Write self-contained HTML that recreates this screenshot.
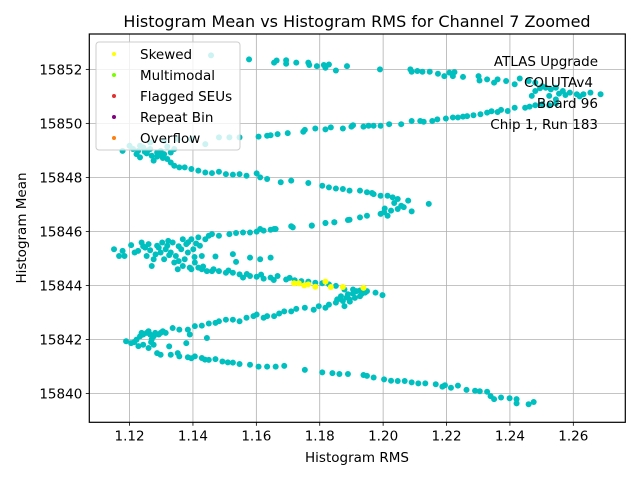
<!DOCTYPE html>
<html><head><meta charset="utf-8"><style>
html,body{margin:0;padding:0;background:#fff;}
svg{display:block;font-family:"DejaVu Sans","Liberation Sans",sans-serif;}
</style></head><body>
<svg id="chart" width="640" height="480" viewBox="0 0 640 480">
<rect width="640" height="480" fill="#fff"/>
<text x="357" y="27" font-size="16" text-anchor="middle">Histogram Mean vs Histogram RMS for Channel 7 Zoomed</text>
<g id="grid"></g>
<g id="points"></g>
<rect x="89.3" y="34" width="536" height="388.3" fill="none" stroke="#000" stroke-width="1.2"/>
<g id="ticks"></g>
<text x="357" y="462" font-size="13.5" text-anchor="middle">Histogram RMS</text>
<text transform="translate(26,228) rotate(-90)" font-size="13.5" text-anchor="middle">Histogram Mean</text>
<g font-size="13.5" text-anchor="end">
<text x="598" y="66">ATLAS Upgrade</text>
<text x="593" y="87">COLUTAv4</text>
<text x="598" y="108">Board 96</text>
<text x="598" y="129">Chip 1, Run 183</text>
</g>
<g id="legend">
<rect x="96" y="42" width="144" height="108" rx="3" fill="rgba(255,255,255,0.8)" stroke="#ccc"/>
</g>
</svg>
<script>
const xTicks = [1.12, 1.14, 1.16, 1.18, 1.20, 1.22, 1.24, 1.26];
const xTickLabels = ["1.12","1.14","1.16","1.18","1.20","1.22","1.24","1.26"];
const yTicks = [15840, 15842, 15844, 15846, 15848, 15850, 15852];
const yTickLabels = ["15840","15842","15844","15846","15848","15850","15852"];
const legendLabels = ["Skewed","Multimodal","Flagged SEUs","Repeat Bin","Overflow"];
const legendColors = ["#ffff00","#7cfc00","#e03030","#800080","#ff7f0e"];

const bandTop = [[1.1457,15852.52],[1.1577,15852.37],[1.1656,15852.25],[1.1664,15852.33],[1.1694,15852.34],[1.1694,15852.21],[1.1726,15852.25],[1.1764,15852.25],[1.1767,15852.16],[1.1791,15852.12],[1.1813,15852.16],[1.1818,15852.06],[1.1829,15852.18],[1.1851,15851.96],[1.1886,15852.12],[1.199,15852.0],[1.2086,15852.0],[1.209,15851.91],[1.2108,15851.94],[1.2124,15851.91],[1.2147,15851.91],[1.2173,15851.84],[1.2193,15851.75],[1.2209,15851.88],[1.222,15851.75],[1.2225,15851.9],[1.2252,15851.72],[1.2301,15851.75],[1.2304,15851.59],[1.2328,15851.63],[1.235,15851.51],[1.2361,15851.63],[1.2388,15851.57],[1.2415,15851.45],[1.2431,15851.66],[1.2459,15851.57],[1.248,15851.51],[1.2502,15851.38],[1.2513,15851.32],[1.2529,15851.26],[1.2545,15851.32],[1.2567,15851.2],[1.2589,15851.14],[1.2611,15851.08],[1.2632,15851.08],[1.2654,15851.14],[1.2686,15851.08],[1.248,15851.2],[1.2524,15851.02],[1.2545,15850.89],[1.2469,15851.02],[1.2555,15851.1],[1.2575,15851.05],[1.2495,15851.3],[1.262,15851.0]];
const bandRising = [[1.1178,15848.98],[1.12,15849.17],[1.1233,15849.17],[1.1265,15849.29],[1.1309,15849.35],[1.1352,15849.42],[1.1395,15849.42],[1.1439,15849.23],[1.1482,15849.48],[1.1515,15849.48],[1.1547,15849.48],[1.1607,15849.51],[1.1634,15849.54],[1.1645,15849.56],[1.1667,15849.6],[1.1699,15849.64],[1.1748,15849.69],[1.1753,15849.76],[1.1786,15849.81],[1.1818,15849.78],[1.1835,15849.85],[1.1873,15849.81],[1.19,15849.88],[1.1905,15849.93],[1.1938,15849.88],[1.1954,15849.91],[1.197,15849.91],[1.1992,15849.91],[1.2019,15849.97],[1.2057,15849.97],[1.209,15850.09],[1.2117,15850.09],[1.2128,15850.06],[1.2155,15850.09],[1.2171,15850.15],[1.2198,15850.18],[1.222,15850.22],[1.2236,15850.22],[1.2252,15850.25],[1.2285,15850.3],[1.2307,15850.34],[1.2328,15850.4],[1.2361,15850.42],[1.2372,15850.5],[1.2393,15850.46],[1.2415,15850.58],[1.2448,15850.58],[1.248,15850.67],[1.2502,15850.71],[1.2524,15850.67],[1.2545,15850.74],[1.2265,15850.27],[1.2342,15850.45],[1.2462,15850.62]];
const bandFalling = [[1.1211,15849.05],[1.1227,15848.98],[1.1243,15849.11],[1.1265,15849.05],[1.1298,15848.98],[1.1319,15849.14],[1.1341,15849.05],[1.1222,15848.86],[1.1233,15848.74],[1.1254,15848.89],[1.127,15848.8],[1.1287,15848.92],[1.1309,15848.86],[1.133,15848.92],[1.1287,15848.77],[1.1319,15848.68],[1.1276,15848.62],[1.133,15848.55],[1.1341,15848.43],[1.1357,15848.37],[1.1374,15848.37],[1.1395,15848.31],[1.1417,15848.25],[1.1439,15848.18],[1.146,15848.16],[1.1482,15848.21],[1.1504,15848.12],[1.1526,15848.1],[1.1547,15848.12],[1.1569,15848.06],[1.1601,15848.15],[1.1612,15848.0],[1.1634,15847.94],[1.1677,15847.82],[1.171,15847.88],[1.1764,15847.79],[1.1808,15847.69],[1.1829,15847.63],[1.1851,15847.59],[1.1873,15847.57],[1.1894,15847.51],[1.1927,15847.51],[1.1949,15847.45],[1.197,15847.38],[1.1992,15847.32],[1.2014,15847.32],[1.203,15847.26],[1.2046,15847.2],[1.2079,15847.14],[1.2144,15847.02],[1.2057,15846.95],[1.2046,15846.83],[1.2025,15846.77],[1.2003,15846.71],[1.1992,15846.65],[1.1949,15846.58],[1.1927,15846.52],[1.1894,15846.43],[1.1846,15846.34],[1.1818,15846.31],[1.1775,15846.22],[1.1715,15846.15],[1.1656,15846.09],[1.1612,15846.09],[1.209,15846.74],[1.2014,15846.58],[1.171,15846.19],[1.1775,15846.21],[1.1818,15846.31],[1.1846,15846.34],[1.1889,15846.42],[1.1248,15848.95],[1.1295,15848.85],[1.1305,15848.72],[1.1258,15849.0],[1.2035,15847.05],[1.2065,15846.9],[1.2005,15846.85],[1.1965,15847.42]];
const bandCluster = [[1.1151,15845.34],[1.1167,15845.09],[1.1178,15845.28],[1.1184,15845.09],[1.1205,15845.49],[1.1216,15845.22],[1.1227,15845.28],[1.1238,15845.59],[1.1249,15845.4],[1.1254,15845.09],[1.126,15845.53],[1.127,15844.72],[1.1276,15844.97],[1.1287,15845.47],[1.1298,15845.22],[1.1303,15845.59],[1.1309,15844.97],[1.1314,15845.34],[1.1319,15845.47],[1.133,15845.22],[1.1336,15845.59],[1.1341,15844.85],[1.1346,15845.09],[1.1352,15844.6],[1.1363,15845.34],[1.1368,15845.71],[1.1374,15844.97],[1.1379,15845.53],[1.1384,15845.22],[1.139,15844.66],[1.1395,15845.71],[1.1401,15845.34],[1.1406,15844.85],[1.1417,15845.78],[1.1422,15845.47],[1.1428,15845.09],[1.1439,15845.71],[1.145,15845.84],[1.146,15845.9],[1.1482,15845.84],[1.1515,15845.9],[1.1536,15845.94],[1.1558,15845.96],[1.158,15845.96],[1.1601,15845.99],[1.1623,15846.03],[1.1645,15846.06],[1.1661,15846.09],[1.1428,15844.6],[1.1444,15844.53],[1.146,15844.53],[1.1482,15844.53],[1.1504,15844.47],[1.1526,15844.47],[1.1547,15844.41],[1.1558,15844.29],[1.158,15844.35],[1.1601,15844.32],[1.1623,15844.25],[1.1645,15844.29],[1.1667,15844.35],[1.1694,15844.22],[1.1721,15844.19],[1.1742,15844.16],[1.1764,15844.14],[1.1786,15844.1],[1.1808,15844.08],[1.1829,15844.04],[1.1851,15843.98],[1.1878,15843.85],[1.1905,15843.85],[1.1927,15843.81],[1.1949,15843.79],[1.1976,15843.73],[1.1998,15843.64],[1.1471,15845.07],[1.1526,15845.16],[1.1536,15844.87],[1.158,15845.03],[1.1612,15844.97],[1.1645,15845.03],[1.1368,15844.72],[1.1395,15844.6],[1.1417,15844.66],[1.1243,15845.45],[1.1265,15845.3],[1.1292,15845.4],[1.1325,15845.12],[1.1355,15845.45],[1.1385,15845.6],[1.141,15845.55],[1.1322,15845.65],[1.1282,15845.15],[1.1355,15844.9],[1.1405,15845.05],[1.1432,15844.7],[1.1465,15844.6],[1.1512,15844.55],[1.157,15844.42],[1.1615,15844.4],[1.1655,15844.2],[1.1705,15844.28]];
const bandLowRising = [[1.1189,15841.93],[1.1205,15841.86],[1.1222,15841.99],[1.1233,15842.11],[1.1243,15842.18],[1.1254,15842.24],[1.1265,15842.18],[1.1281,15842.24],[1.1298,15842.24],[1.1314,15842.24],[1.1336,15842.42],[1.1357,15842.36],[1.1384,15842.36],[1.139,15842.18],[1.1406,15842.49],[1.1428,15842.51],[1.145,15842.59],[1.1471,15842.61],[1.1482,15842.67],[1.1504,15842.73],[1.1526,15842.73],[1.1547,15842.67],[1.1569,15842.8],[1.1591,15842.86],[1.1601,15842.92],[1.1623,15842.8],[1.1634,15842.86],[1.1656,15842.86],[1.1672,15842.96],[1.1688,15843.04],[1.171,15843.04],[1.1726,15843.13],[1.1753,15843.17],[1.1781,15843.1],[1.1797,15843.23],[1.1818,15843.17],[1.1829,15843.29],[1.1851,15843.36],[1.1873,15843.42],[1.1878,15843.23],[1.1894,15843.48],[1.1911,15843.54],[1.1927,15843.6],[1.1943,15843.73],[1.1867,15843.6],[1.1889,15843.67],[1.1916,15843.79],[1.1243,15841.8],[1.126,15841.68],[1.1276,15841.8],[1.1287,15841.49],[1.1298,15841.43],[1.1325,15841.74],[1.1379,15841.86],[1.1444,15842.05],[1.1238,15842.24],[1.126,15842.3],[1.1276,15842.11],[1.1292,15842.18],[1.1215,15841.9],[1.1228,15841.75],[1.127,15842.0],[1.1305,15842.3],[1.1268,15841.9],[1.1862,15843.5],[1.1885,15843.55],[1.1905,15843.7],[1.1932,15843.68],[1.1895,15843.4],[1.1855,15843.48]];
const bandBottom = [[1.133,15841.43],[1.1352,15841.49],[1.1357,15841.37],[1.1384,15841.34],[1.1406,15841.37],[1.1428,15841.31],[1.145,15841.24],[1.1471,15841.27],[1.1493,15841.18],[1.1526,15841.14],[1.1547,15841.09],[1.158,15841.06],[1.1607,15840.99],[1.1634,15840.99],[1.1661,15840.99],[1.1688,15841.02],[1.1753,15840.87],[1.1808,15840.78],[1.184,15840.75],[1.1862,15840.72],[1.1889,15840.72],[1.1938,15840.68],[1.1949,15840.65],[1.197,15840.59],[1.2003,15840.52],[1.2025,15840.47],[1.2046,15840.46],[1.2068,15840.46],[1.209,15840.41],[1.2111,15840.37],[1.2133,15840.37],[1.2166,15840.34],[1.2187,15840.25],[1.2214,15840.21],[1.2236,15840.29],[1.2263,15840.13],[1.229,15840.1],[1.2328,15840.06],[1.2339,15839.9],[1.235,15839.79],[1.2372,15839.85],[1.2399,15839.82],[1.2421,15839.79],[1.2421,15839.63],[1.2459,15839.6],[1.2475,15839.68],[1.1395,15841.3],[1.1438,15841.25],[1.151,15841.15],[1.2195,15840.3],[1.2305,15840.08]];
const skewedPoints = [[1.1719,15844.08],[1.1734,15844.08],[1.1751,15844.0],[1.1764,15844.04],[1.1786,15843.95],[1.1818,15844.14],[1.1835,15843.94],[1.1873,15843.94],[1.1938,15843.91]];

const NS = "http://www.w3.org/2000/svg";
const X0 = 89.3, X1 = 625.3, Y0 = 34, Y1 = 422.3;
const xMin = 1.1073, xMax = 1.2764, yMin = 15838.93, yMax = 15853.31;
function xs(v){ return X0 + (v - xMin) / (xMax - xMin) * (X1 - X0); }
function ys(v){ return Y1 - (v - yMin) / (yMax - yMin) * (Y1 - Y0); }
function mk(tag, attrs, parent){ const e = document.createElementNS(NS, tag); for (const k in attrs) e.setAttribute(k, attrs[k]); parent.appendChild(e); return e; }

const grid = document.getElementById('grid');
const ticks = document.getElementById('ticks');
xTicks.forEach((t, i) => {
  const x = xs(t);
  const g = mk('line', {x1:x, x2:x, y1:Y0, y2:Y1, stroke:'#b0b0b0', 'stroke-width':0.8}, grid);
  
  
  mk('line', {x1:x, x2:x, y1:Y1, y2:Y1+3.5, stroke:'#000', 'stroke-width':0.8}, ticks);
  const tx = mk('text', {x:x, y:Y1+18, 'font-size':13.5, 'text-anchor':'middle'}, ticks);
  tx.textContent = xTickLabels[i];
  
  
});
yTicks.forEach((t, i) => {
  const y = ys(t);
  const g = mk('line', {x1:X0, x2:X1, y1:y, y2:y, stroke:'#b0b0b0', 'stroke-width':0.8}, grid);
  
  
  mk('line', {x1:X0-3.5, x2:X0, y1:y, y2:y, stroke:'#000', 'stroke-width':0.8}, ticks);
  const tx = mk('text', {x:X0-7, y:y+5, 'font-size':13.5, 'text-anchor':'end'}, ticks);
  tx.textContent = yTickLabels[i];
  
  
});

const pts = document.getElementById('points');
[bandTop, bandRising, bandFalling, bandCluster, bandLowRising, bandBottom].forEach(band => {
  band.forEach(p => {
    const c = mk('circle', {cx:xs(p[0]), cy:ys(p[1]), r:3, fill:'#00bfbf'}, pts);
    
    
  });
});
skewedPoints.forEach(p => {
  const c = mk('circle', {cx:xs(p[0]), cy:ys(p[1]), r:3, fill:'#ffff00'}, pts);
  
  
});

const legend = document.getElementById('legend');
legendLabels.forEach((lab, i) => {
  const y = 54 + i * 21;
  const c = mk('circle', {cx:114, cy:y, r:2, fill:legendColors[i]}, legend);
  
  
  const t = mk('text', {x:140, y:y+5, 'font-size':13.5}, legend);
  t.textContent = lab;
  
  
});
</script>
</body></html>
